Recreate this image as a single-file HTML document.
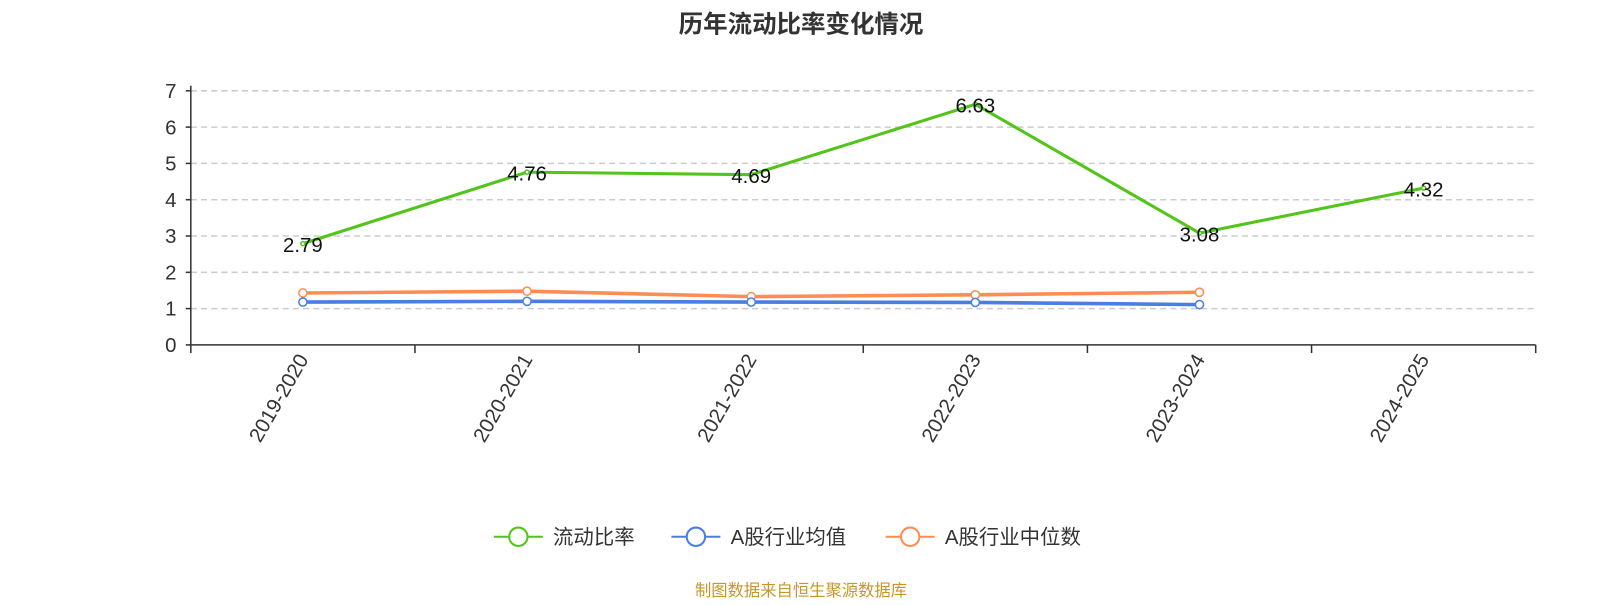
<!DOCTYPE html>
<html><head><meta charset="utf-8"><style>
body{margin:0;background:#fff;font-family:"Liberation Sans","Noto Sans CJK SC",sans-serif;}
svg text{font-family:"Liberation Sans","Noto Sans CJK SC",sans-serif;}
</style></head><body>
<svg id="chart" width="1600" height="600" viewBox="0 0 1568 588" xmlns="http://www.w3.org/2000/svg">
<text x="785" y="32" text-anchor="middle" font-size="24" font-weight="bold" fill="#333">历年流动比率变化情况</text>
<g id="grid"></g><g id="axes"></g><g id="series"></g>
<g font-size="20" fill="#333">
<g><line x1="484" y1="526" x2="532" y2="526" stroke="#52c41a" stroke-width="2"/><circle cx="508" cy="526" r="9" fill="#fff" stroke="#52c41a" stroke-width="2"/><text x="542" y="533">流动比率</text></g>
<g><line x1="658" y1="526" x2="706" y2="526" stroke="#4a7ee0" stroke-width="2"/><circle cx="682" cy="526" r="9" fill="#fff" stroke="#4a7ee0" stroke-width="2"/><text x="716" y="533">A股行业均值</text></g>
<g><line x1="868" y1="526" x2="916" y2="526" stroke="#ff8c55" stroke-width="2"/><circle cx="892" cy="526" r="9" fill="#fff" stroke="#ff8c55" stroke-width="2"/><text x="926" y="533">A股行业中位数</text></g>
</g>
<text x="785" y="584" text-anchor="middle" font-size="16" fill="#c8962a">制图数据来自恒生聚源数据库</text>
</svg>
<script>
const categories=["2019-2020","2020-2021","2021-2022","2022-2023","2023-2024","2024-2025"];
const ratioValues=[2.79,4.76,4.69,6.63,3.08,4.32];
const avgValues=[1.18,1.2,1.18,1.17,1.11];
const medianValues=[1.43,1.48,1.33,1.38,1.45];
const yTicks=[0,1,2,3,4,5,6,7];
const NS="http://www.w3.org/2000/svg";
const x0=187,x1=1505,yTop=89,yBot=338,yMax=7;
const bw=(x1-x0)/categories.length;
const xs=i=>x0+bw*(i+0.5);
const ys=v=>yBot-(v/yMax)*(yBot-yTop);
function mk(tag,attrs,parent,txt){const e=document.createElementNS(NS,tag);for(const k in attrs)e.setAttribute(k,attrs[k]);if(txt!==undefined)e.textContent=txt;parent.appendChild(e);return e;}
const grid=document.getElementById('grid'),axes=document.getElementById('axes'),ser=document.getElementById('series');
yTicks.forEach(t=>{
 if(t>0){const g=mk('line',{x1:x0,x2:x1,y1:ys(t),y2:ys(t),stroke:'#ccc','stroke-dasharray':'6,4','stroke-width':1.5},grid);
 
 }
 const tk=mk('line',{x1:x0-5,x2:x0,y1:ys(t),y2:ys(t),stroke:'#333','stroke-width':1.5},axes);
 
 
 const lb=mk('text',{x:x0-14,y:ys(t)+7,'text-anchor':'end','font-size':20,fill:'#333'},axes,t);
 
 
});
const ya=mk('line',{x1:x0,x2:x0,y1:yTop-5,y2:yBot,stroke:'#333','stroke-width':1.5},axes);


const xa=mk('line',{x1:x0,x2:x1,y1:yBot,y2:yBot,stroke:'#333','stroke-width':1.5},axes);


for(let i=0;i<=categories.length;i++){
 const t=mk('line',{x1:x0+bw*i,x2:x0+bw*i,y1:yBot,y2:yBot+8,stroke:'#333','stroke-width':1.5},axes);
 
 
}
categories.forEach((c,i)=>{
 const x=xs(i)+6,y=yBot+14;
 const l=mk('text',{x:x,y:y,'text-anchor':'end','font-size':20,fill:'#333',transform:`rotate(-60 ${x} ${y})`},axes,c);
 
 
});
function line(vals,color,name,r,w){
 const p=mk('polyline',{points:vals.map((v,i)=>xs(i)+','+ys(v)).join(' '),fill:'none',stroke:color,'stroke-width':w},ser);
 
 
 vals.forEach((v,i)=>{const c=mk('circle',{cx:xs(i),cy:ys(v),r:r,fill:'#fff',stroke:color,'stroke-width':1.5},ser);
 
 });
}
line(medianValues,'#ff8c55','median',4,3.5);
line(avgValues,'#4a7ee0','avg',4,3.5);
line(ratioValues,'#52c41a','ratio',2,3);
ratioValues.forEach((v,i)=>{
 const t=mk('text',{x:xs(i),y:ys(v)+8,'text-anchor':'middle','font-size':20,fill:'#111'},ser,v.toFixed(2));
 
 
});
</script>
</body></html>
